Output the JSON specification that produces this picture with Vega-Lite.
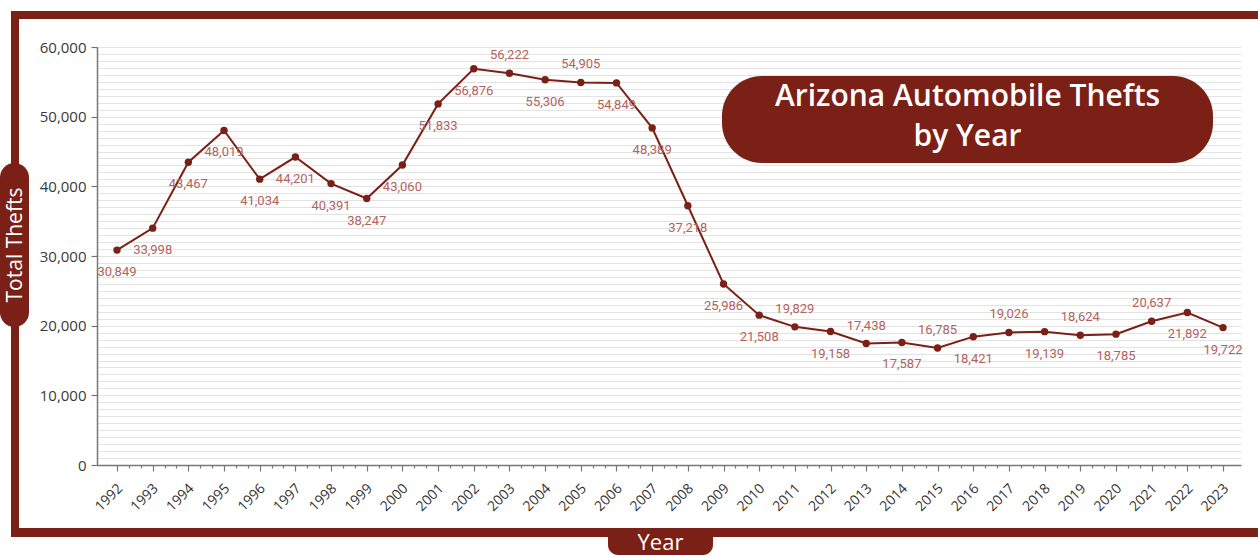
{
  "$schema": "https://vega.github.io/schema/vega-lite/v6.json",
  "autosize": "none",
  "width": 1144,
  "height": 418,
  "padding": {"left": 97, "top": 47, "right": 17, "bottom": 91},
  "background": "white",
  "config": {"view": {"stroke": null}},
  "resolve": {"axis": {"x": "independent", "y": "independent"}},
  "data": {"values": [
    {"year": 1992, "thefts": 30849},
    {"year": 1993, "thefts": 33998},
    {"year": 1994, "thefts": 43467},
    {"year": 1995, "thefts": 48019},
    {"year": 1996, "thefts": 41034},
    {"year": 1997, "thefts": 44201},
    {"year": 1998, "thefts": 40391},
    {"year": 1999, "thefts": 38247},
    {"year": 2000, "thefts": 43060},
    {"year": 2001, "thefts": 51833},
    {"year": 2002, "thefts": 56876},
    {"year": 2003, "thefts": 56222},
    {"year": 2004, "thefts": 55306},
    {"year": 2005, "thefts": 54905},
    {"year": 2006, "thefts": 54849},
    {"year": 2007, "thefts": 48389},
    {"year": 2008, "thefts": 37218},
    {"year": 2009, "thefts": 25986},
    {"year": 2010, "thefts": 21508},
    {"year": 2011, "thefts": 19829},
    {"year": 2012, "thefts": 19158},
    {"year": 2013, "thefts": 17438},
    {"year": 2014, "thefts": 17587},
    {"year": 2015, "thefts": 16785},
    {"year": 2016, "thefts": 18421},
    {"year": 2017, "thefts": 19026},
    {"year": 2018, "thefts": 19139},
    {"year": 2019, "thefts": 18624},
    {"year": 2020, "thefts": 18785},
    {"year": 2021, "thefts": 20637},
    {"year": 2022, "thefts": 21892},
    {"year": 2023, "thefts": 19722}
  ]},
  "layer": [
    {
      "mark": {"type": "line", "color": "#7B2016", "strokeWidth": 2},
      "encoding": {
        "x": {"field": "year", "type": "quantitative",
          "scale": {"domain": [1991.4394, 2023.5045], "nice": false, "zero": false},
          "axis": {
            "title": null, "grid": false,
            "values": [1992,1992.3333,1992.6667,1993,1993.3333,1993.6667,1994,1994.3333,1994.6667,1995,1995.3333,1995.6667,1996,1996.3333,1996.6667,1997,1997.3333,1997.6667,1998,1998.3333,1998.6667,1999,1999.3333,1999.6667,2000,2000.3333,2000.6667,2001,2001.3333,2001.6667,2002,2002.3333,2002.6667,2003,2003.3333,2003.6667,2004,2004.3333,2004.6667,2005,2005.3333,2005.6667,2006,2006.3333,2006.6667,2007,2007.3333,2007.6667,2008,2008.3333,2008.6667,2009,2009.3333,2009.6667,2010,2010.3333,2010.6667,2011,2011.3333,2011.6667,2012,2012.3333,2012.6667,2013,2013.3333,2013.6667,2014,2014.3333,2014.6667,2015,2015.3333,2015.6667,2016,2016.3333,2016.6667,2017,2017.3333,2017.6667,2018,2018.3333,2018.6667,2019,2019.3333,2019.6667,2020,2020.3333,2020.6667,2021,2021.3333,2021.6667,2022,2022.3333,2022.6667,2023],
            "labelExpr": "abs(datum.value - round(datum.value)) < 0.01 ? toString(round(datum.value)) : ''",
            "labelAngle": -45, "labelAlign": "right", "labelBaseline": "middle",
            "labelPadding": 15, "labelOffset": 3,
            "labelOverlap": false, "labelFlush": false, "labelBound": false,
            "labelFont": "Open Sans", "labelFontSize": 14, "labelColor": "#333333",
            "domainColor": "#777777", "domainWidth": 1.5,
            "tickColor": "#777777", "tickWidth": 1.2,
            "tickSize": {"condition": {"test": "abs(datum.value - round(datum.value)) > 0.01", "value": 3}, "value": 6}
          }
        },
        "y": {"field": "thefts", "type": "quantitative",
          "scale": {"domain": [0, 60000], "nice": false},
          "axis": {
            "title": null,
            "values": [0,1000,2000,3000,4000,5000,6000,7000,8000,9000,10000,11000,12000,13000,14000,15000,16000,17000,18000,19000,20000,21000,22000,23000,24000,25000,26000,27000,28000,29000,30000,31000,32000,33000,34000,35000,36000,37000,38000,39000,40000,41000,42000,43000,44000,45000,46000,47000,48000,49000,50000,51000,52000,53000,54000,55000,56000,57000,58000,59000,60000],
            "labelExpr": "datum.value % 10000 === 0 ? format(datum.value, ',') : ''",
            "labelOverlap": false, "labelBound": false,
            "labelFont": "Open Sans", "labelFontSize": 15, "labelColor": "#3a3a3a", "labelPadding": 5,
            "gridColor": "#e3e3e3", "gridWidth": 1,
            "domainColor": "#777777", "domainWidth": 1.5,
            "tickColor": "#777777", "tickWidth": 1.2,
            "tickSize": {"condition": {"test": "datum.value % 10000 !== 0", "value": 0}, "value": 6}
          }
        }
      }
    },
    {
      "mark": {"type": "circle", "color": "#7B2016", "opacity": 1, "size": 55},
      "encoding": {
        "x": {"field": "year", "type": "quantitative", "scale": {"domain": [1991.4394, 2023.5045], "nice": false, "zero": false}, "axis": null},
        "y": {"field": "thefts", "type": "quantitative", "scale": {"domain": [0, 60000], "nice": false}, "axis": null}
      }
    },
    {
      "transform": [{"filter": {"field": "year", "oneOf": [2003, 2005, 2011, 2013, 2015, 2017, 2019, 2021]}}],
      "mark": {"type": "text", "font": "Roboto", "fontSize": 13, "color": "#B4625C", "baseline": "middle", "align": "center", "dy": -18},
      "encoding": {
        "x": {"field": "year", "type": "quantitative", "scale": {"domain": [1991.4394, 2023.5045], "nice": false, "zero": false}, "axis": null},
        "y": {"field": "thefts", "type": "quantitative", "scale": {"domain": [0, 60000], "nice": false}, "axis": null},
        "text": {"field": "thefts", "type": "quantitative", "format": ","}
      }
    },
    {
      "transform": [{"filter": {"not": {"field": "year", "oneOf": [2003, 2005, 2011, 2013, 2015, 2017, 2019, 2021]}}}],
      "mark": {"type": "text", "font": "Roboto", "fontSize": 13, "color": "#B4625C", "baseline": "middle", "align": "center", "dy": 22},
      "encoding": {
        "x": {"field": "year", "type": "quantitative", "scale": {"domain": [1991.4394, 2023.5045], "nice": false, "zero": false}, "axis": null},
        "y": {"field": "thefts", "type": "quantitative", "scale": {"domain": [0, 60000], "nice": false}, "axis": null},
        "text": {"field": "thefts", "type": "quantitative", "format": ","}
      }
    },
    {
      "data": {"values": [{}]},
      "mark": {"type": "rect", "fill": "#7B2016", "clip": false},
      "encoding": {
        "x": {"datum": 1989.029, "type": "quantitative", "scale": {"domain": [1991.4394, 2023.5045], "nice": false, "zero": false}, "axis": null},
        "x2": {"datum": 2023.98},
        "y": {"datum": 65167, "type": "quantitative", "scale": {"domain": [0, 60000], "nice": false}, "axis": null},
        "y2": {"datum": 64019}
      }
    },
    {
      "data": {"values": [{}]},
      "mark": {"type": "rect", "fill": "#7B2016", "clip": false},
      "encoding": {
        "x": {"datum": 1989.029, "type": "quantitative", "scale": {"domain": [1991.4394, 2023.5045], "nice": false, "zero": false}, "axis": null},
        "x2": {"datum": 2023.98},
        "y": {"datum": -9043, "type": "quantitative", "scale": {"domain": [0, 60000], "nice": false}, "axis": null},
        "y2": {"datum": -10335}
      }
    },
    {
      "data": {"values": [{}]},
      "mark": {"type": "rect", "fill": "#7B2016", "clip": false},
      "encoding": {
        "x": {"datum": 1989.029, "type": "quantitative", "scale": {"domain": [1991.4394, 2023.5045], "nice": false, "zero": false}, "axis": null},
        "x2": {"datum": 1989.253},
        "y": {"datum": 65167, "type": "quantitative", "scale": {"domain": [0, 60000], "nice": false}, "axis": null},
        "y2": {"datum": -10335}
      }
    },
    {
      "data": {"values": [{}]},
      "mark": {"type": "rect", "fill": "#7B2016", "cornerRadius": 14.5, "clip": false},
      "encoding": {
        "x": {"datum": 1988.72, "type": "quantitative", "scale": {"domain": [1991.4394, 2023.5045], "nice": false, "zero": false}, "axis": null},
        "x2": {"datum": 1989.533},
        "y": {"datum": 43349, "type": "quantitative", "scale": {"domain": [0, 60000], "nice": false}, "axis": null},
        "y2": {"datum": 19809}
      }
    },
    {
      "data": {"values": [{}]},
      "mark": {"type": "text", "text": "Total Thefts", "angle": 270, "font": "Open Sans", "fontSize": 21, "fontWeight": 500, "color": "white", "align": "center", "baseline": "middle", "clip": false},
      "encoding": {
        "x": {"datum": 1989.16, "type": "quantitative", "scale": {"domain": [1991.4394, 2023.5045], "nice": false, "zero": false}, "axis": null},
        "y": {"datum": 31579, "type": "quantitative", "scale": {"domain": [0, 60000], "nice": false}, "axis": null}
      }
    },
    {
      "data": {"values": [{}]},
      "mark": {"type": "rect", "fill": "#7B2016", "cornerRadiusBottomLeft": 10, "cornerRadiusBottomRight": 10, "clip": false},
      "encoding": {
        "x": {"datum": 2005.762, "type": "quantitative", "scale": {"domain": [1991.4394, 2023.5045], "nice": false, "zero": false}, "axis": null},
        "x2": {"datum": 2008.705},
        "y": {"datum": -9043, "type": "quantitative", "scale": {"domain": [0, 60000], "nice": false}, "axis": null},
        "y2": {"datum": -12919}
      }
    },
    {
      "data": {"values": [{}]},
      "mark": {"type": "text", "text": "Year", "font": "Open Sans", "fontSize": 22, "fontWeight": 500, "color": "white", "align": "center", "baseline": "middle", "clip": false},
      "encoding": {
        "x": {"datum": 2007.234, "type": "quantitative", "scale": {"domain": [1991.4394, 2023.5045], "nice": false, "zero": false}, "axis": null},
        "y": {"datum": -11196, "type": "quantitative", "scale": {"domain": [0, 60000], "nice": false}, "axis": null}
      }
    },
    {
      "data": {"values": [{}]},
      "mark": {"type": "rect", "fill": "#7B2016", "cornerRadius": 40, "clip": false},
      "encoding": {
        "x": {"datum": 2008.957, "type": "quantitative", "scale": {"domain": [1991.4394, 2023.5045], "nice": false, "zero": false}, "axis": null},
        "x2": {"datum": 2022.72},
        "y": {"datum": 55837, "type": "quantitative", "scale": {"domain": [0, 60000], "nice": false}, "axis": null},
        "y2": {"datum": 43349}
      }
    },
    {
      "data": {"values": [{}]},
      "mark": {"type": "text", "text": ["Arizona Automobile Thefts", "by Year"], "lineHeight": 40, "font": "Open Sans", "fontSize": 30, "fontWeight": 600, "color": "white", "align": "center", "baseline": "middle", "clip": false},
      "encoding": {
        "x": {"datum": 2015.839, "type": "quantitative", "scale": {"domain": [1991.4394, 2023.5045], "nice": false, "zero": false}, "axis": null},
        "y": {"datum": 52823, "type": "quantitative", "scale": {"domain": [0, 60000], "nice": false}, "axis": null}
      }
    }
  ]
}
